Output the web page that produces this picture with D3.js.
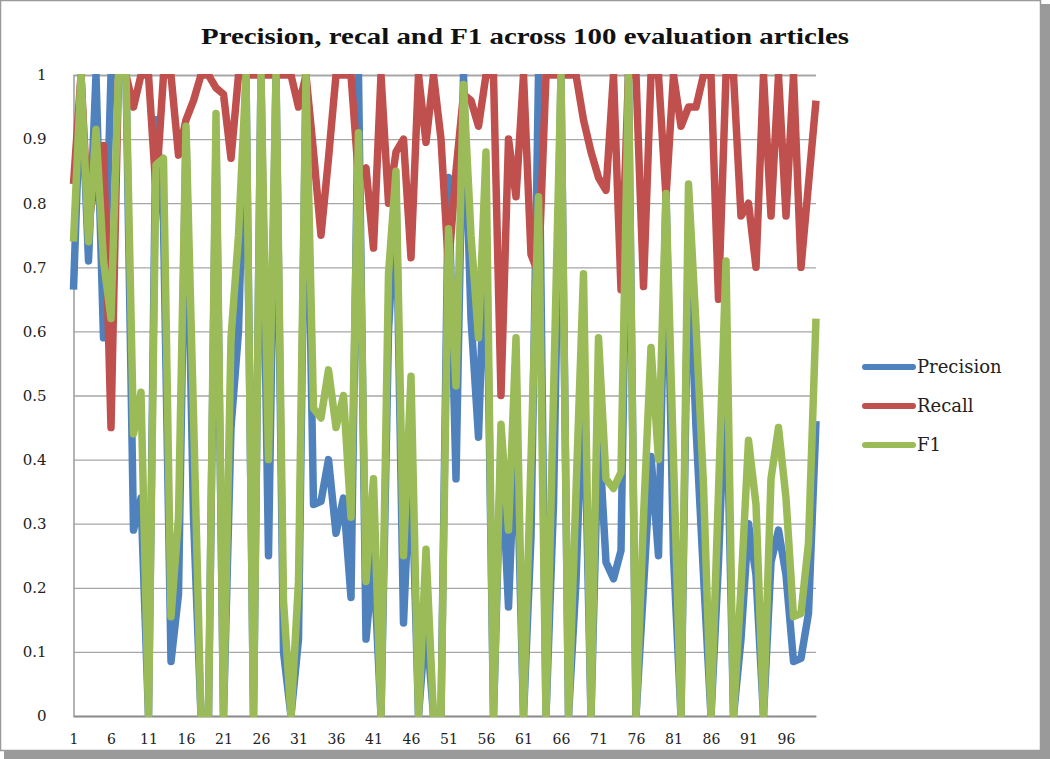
<!DOCTYPE html>
<html><head><meta charset="utf-8">
<script src="https://cdn.jsdelivr.net/npm/d3@7"></script>
<style>body{margin:0;background:#fff}svg{display:block}</style>
</head><body><svg id="c" width="1050" height="759"></svg>
<script>
const categories = d3.range(1, 101);
const precision = [0.665,1,0.71,1,0.59,1,1,1,0.29,0.34,
  0,0.93,0.77,0.085,0.19,0.91,0.31,0,0,0.9,
  0,0.45,0.6,1,0,1,0.25,1,0.1,0,
  0.12,1,0.33,0.335,0.4,0.285,0.34,0.185,1,0.12,
  0.25,0,0.6,0.82,0.145,0.42,0,0.152,0,0,
  0.84,0.37,1,0.62,0.435,0.79,0,0.42,0.17,0.465,
  0,0.28,1,0,0.33,1,0,0.21,0.55,0,
  0.45,0.24,0.214,0.258,1,0,0.2,0.405,0.25,0.82,
  0.25,0,0.75,0.45,0.22,0,0.24,0.55,0,0.12,
  0.3,0.22,0,0.24,0.29,0.22,0.085,0.09,0.16,0.46];
const recall = [0.83,1,0.77,0.84,0.89,0.45,1,1,0.95,1,
  1,0.82,1,1,0.875,0.93,0.96,1,1,0.98,
  0.97,0.87,1,1,1,1,1,1,1,1,
  0.95,1,0.88,0.75,0.87,1,1,1,0.84,0.855,
  0.73,1,0.8,0.88,0.9,0.715,1,0.895,1,0.9,
  0.7,0.85,0.97,0.96,0.92,1,1,0.5,0.9,0.81,
  1,0.72,0.69,1,1,1,1,1,0.93,0.88,
  0.84,0.82,1,0.665,1,1,0.67,1,1,0.81,
  1,0.92,0.95,0.95,1,1,0.65,1,1,0.78,
  0.8,0.7,1,0.78,1,0.78,1,0.7,0.83,0.96];
const f1 = [0.74,1,0.74,0.915,0.71,0.62,1,1,0.44,0.505,
  0,0.86,0.87,0.155,0.31,0.92,0.47,0,0,0.94,
  0,0.59,0.75,1,0,1,0.4,1,0.18,0,
  0.21,1,0.48,0.465,0.54,0.45,0.5,0.31,0.91,0.21,
  0.37,0,0.69,0.85,0.25,0.53,0,0.26,0,0,
  0.76,0.515,0.985,0.75,0.59,0.88,0,0.455,0.29,0.59,
  0,0.4,0.81,0,0.5,1,0,0.35,0.69,0,
  0.59,0.37,0.355,0.38,1,0,0.31,0.575,0.4,0.815,
  0.4,0,0.83,0.61,0.36,0,0.35,0.71,0,0.2,
  0.43,0.33,0,0.37,0.45,0.34,0.155,0.16,0.27,0.62];
const seriesNames = ["Precision", "Recall", "F1"];
const seriesColors = ["#4F81BD", "#C0504D", "#9BBB59"];
const yTicks = [0, 0.1, 0.2, 0.3, 0.4, 0.5, 0.6, 0.7, 0.8, 0.9, 1];
const yTickLabels = ["0", "0.1", "0.2", "0.3", "0.4", "0.5", "0.6", "0.7", "0.8", "0.9", "1"];
const xTickValues = [1, 6, 11, 16, 21, 26, 31, 36, 41, 46, 51, 56, 61, 66, 71, 76, 81, 86, 91, 96];
const titleText = "Precision, recal and F1 across 100 evaluation articles";

const svg = d3.select("#c");
// outer frame and shadow
svg.append("rect").attr("x", 1040).attr("y", 4).attr("width", 10).attr("height", 755).attr("fill", "#9a9a9a");
svg.append("rect").attr("x", 4).attr("y", 750).attr("width", 1046).attr("height", 9).attr("fill", "#9a9a9a");
svg.append("rect").attr("x", 0.5).attr("y", 0.5).attr("width", 1040).attr("height", 750)
  .attr("fill", "#fff").attr("stroke", "#9a9a9a").attr("stroke-width", 1.5);

const x = d3.scaleLinear().domain([1, 100]).range([73.5, 816]);
const y = d3.scaleLinear().domain([0, 1]).range([716, 75]);
const serif = "'DejaVu Serif', 'Liberation Serif', serif";

// y axis with gridlines
const gy = svg.append("g").attr("transform", `translate(${x(1)},0)`)
  .call(d3.axisLeft(y).tickValues(yTicks).tickSize(-(x(100) - x(1))).tickPadding(27)
    .tickFormat((d, i) => yTickLabels[i]));
gy.select(".domain").attr("stroke", "#8c8c8c").attr("stroke-width", 1.3);
gy.selectAll(".tick line").attr("stroke", "#a6a6a6").attr("stroke-width", 1.3);
gy.selectAll(".tick text").attr("font-family", serif).attr("font-size", 15).attr("fill", "#222");

// x axis
const gx = svg.append("g").attr("transform", `translate(0,${y(0)})`)
  .call(d3.axisBottom(x).tickValues(xTickValues).tickSize(0).tickPadding(18).tickFormat(d3.format("d")));
gx.select(".domain").attr("stroke", "#8c8c8c").attr("stroke-width", 1.3);
gx.selectAll(".tick text").attr("font-family", serif).attr("font-size", 14).attr("fill", "#222");

// clip
svg.append("defs").append("clipPath").attr("id", "plotclip").append("rect")
  .attr("x", x(1) - 6).attr("y", y(1) - 1).attr("width", x(100) - x(1) + 12).attr("height", y(0) - y(1) + 2);

const line = d3.line().x((d, i) => x(categories[i])).y(d => y(d));
const allSeries = [precision, recall, f1];
const gl = svg.append("g").attr("clip-path", "url(#plotclip)");
allSeries.forEach((s, k) => {
  gl.append("path").datum(s).attr("d", line).attr("fill", "none")
    .attr("stroke", seriesColors[k]).attr("stroke-width", 7.5).attr("stroke-linejoin", "round");
});

// title
svg.append("text").attr("x", 525).attr("y", 44).attr("text-anchor", "middle")
  .attr("font-family", "'Liberation Serif', 'Times New Roman', serif").attr("font-weight", "bold")
  .attr("font-size", 23).attr("fill", "#111").attr("textLength", 648).attr("lengthAdjust", "spacingAndGlyphs")
  .text(titleText);

// legend
const leg = svg.append("g");
seriesNames.forEach((n, k) => {
  const ly = 367 + k * 39;
  leg.append("line").attr("x1", 865).attr("x2", 913).attr("y1", ly).attr("y2", ly)
    .attr("stroke", seriesColors[k]).attr("stroke-width", 6).attr("stroke-linecap", "round");
  leg.append("text").attr("x", 917).attr("y", ly + 6).attr("font-family", serif)
    .attr("font-size", 18).attr("fill", "#222").text(n);
});
</script></body></html>
